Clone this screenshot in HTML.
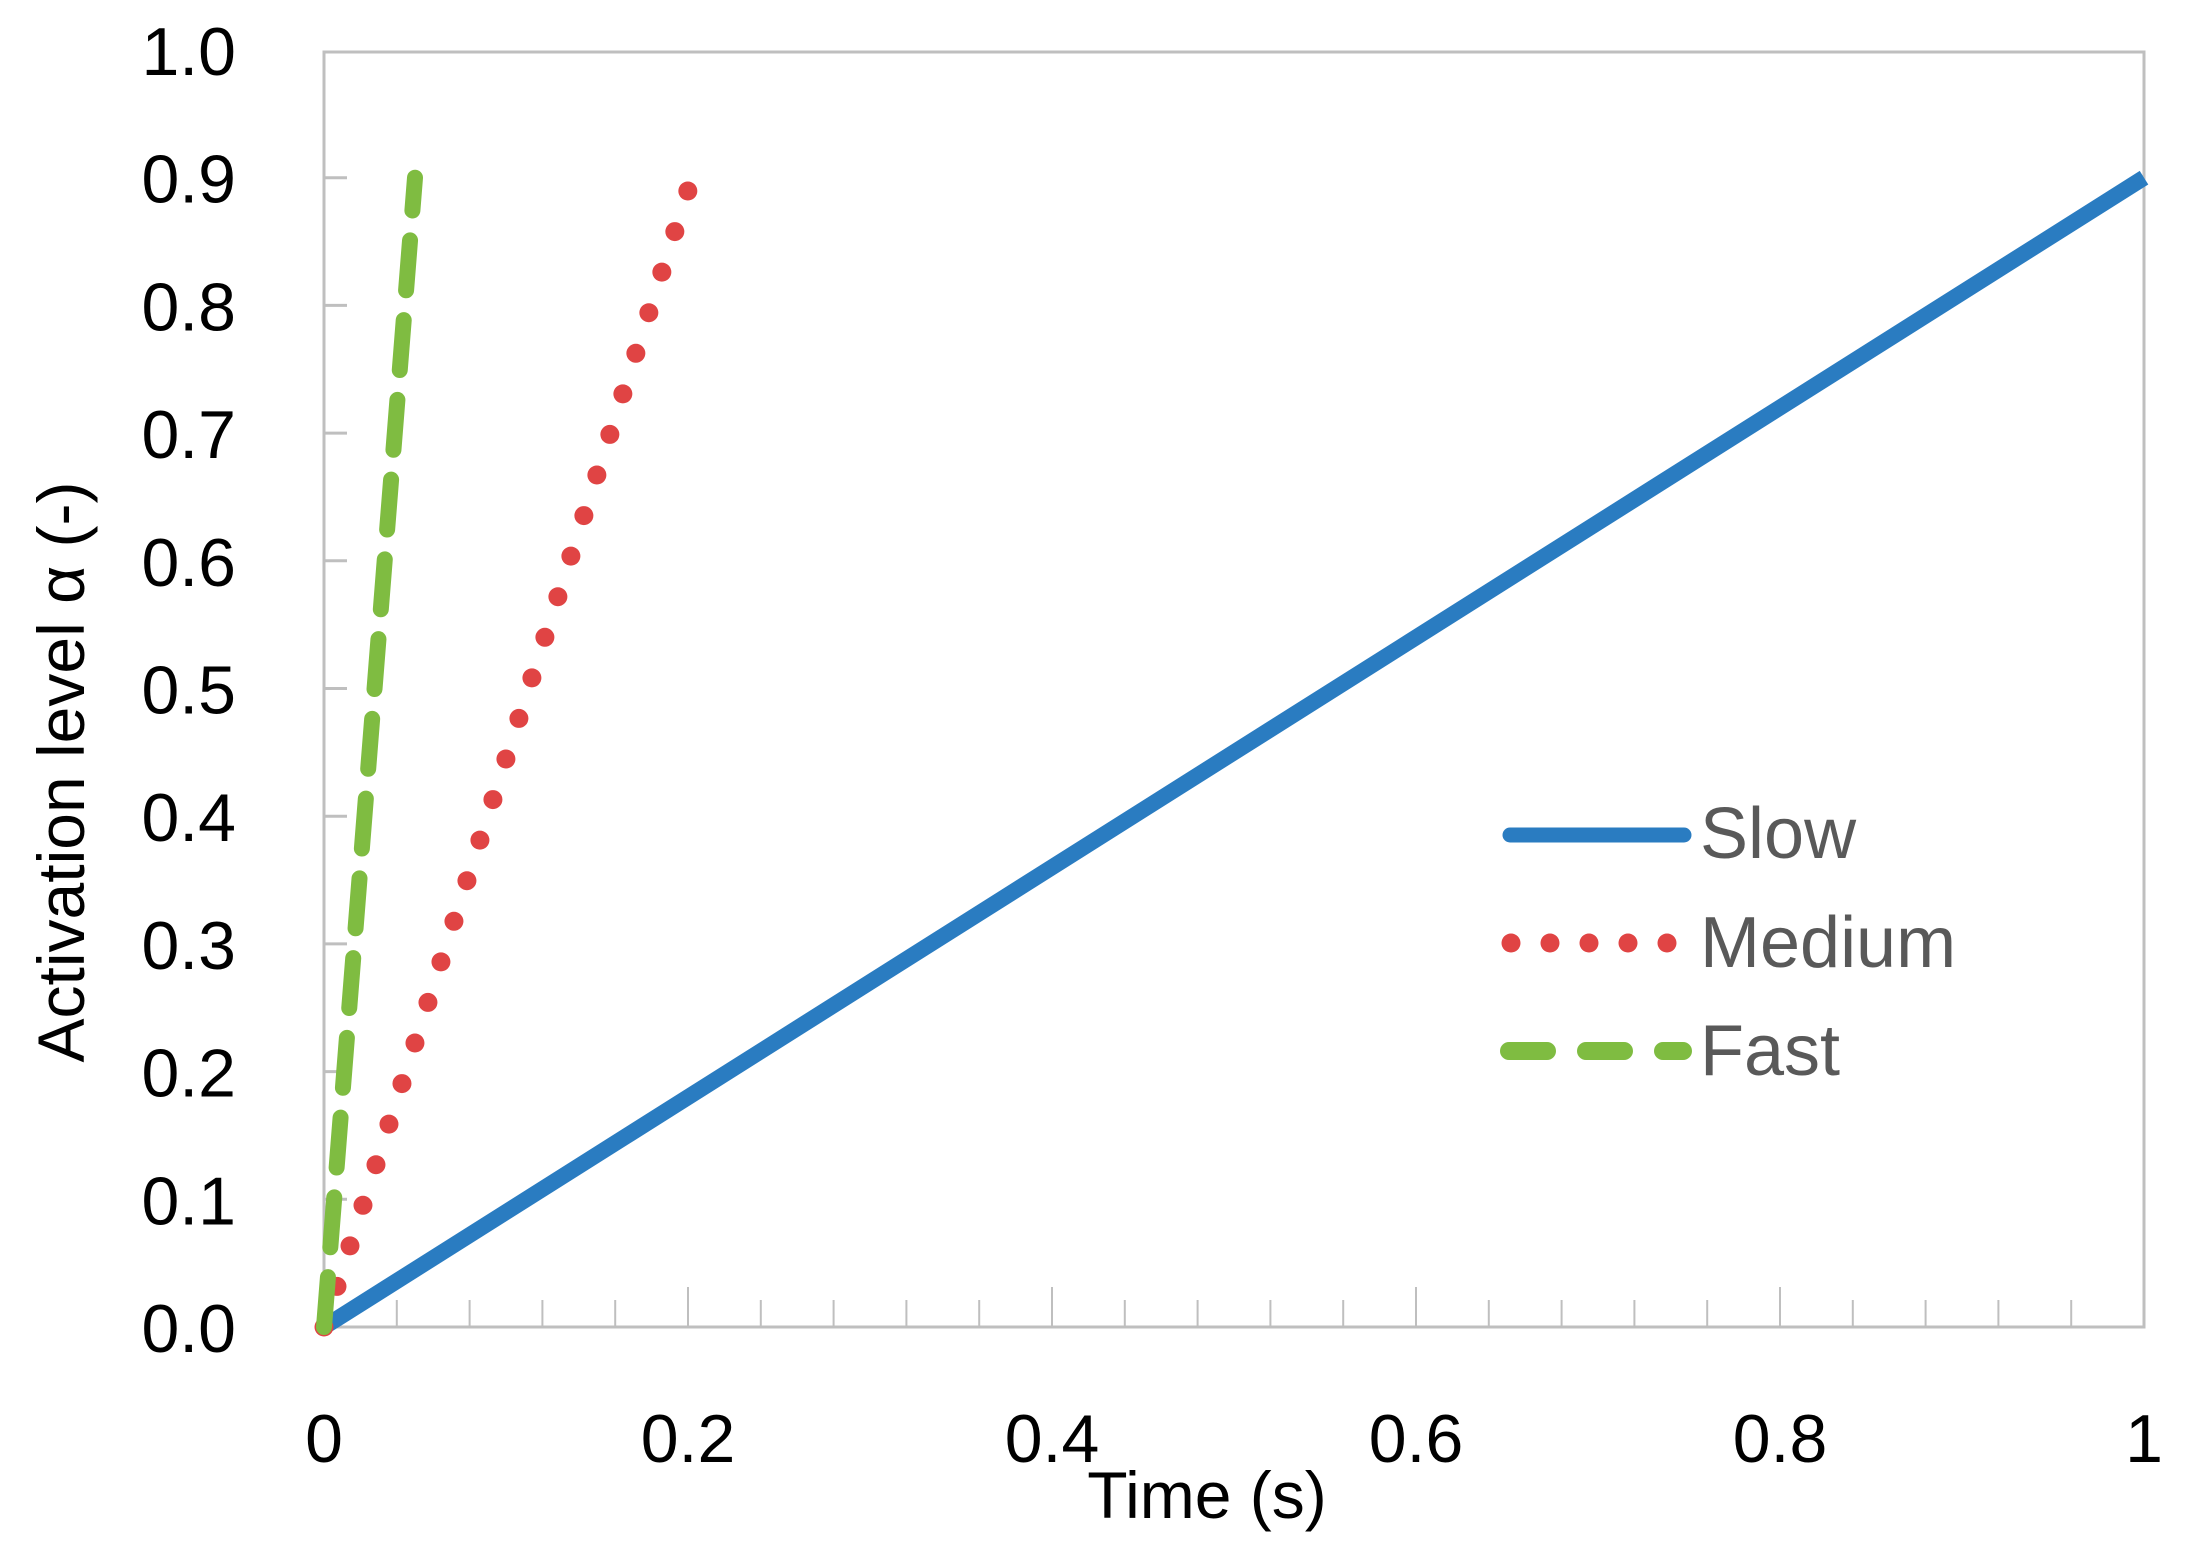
<!DOCTYPE html>
<html><head><meta charset="utf-8"><style>
html,body{margin:0;padding:0;background:#fff;}
svg{display:block;font-family:"Liberation Sans",sans-serif;}
</style></head><body>
<svg id="chart" width="2189" height="1553" viewBox="0 0 2189 1553" xmlns="http://www.w3.org/2000/svg">
<rect x="324" y="52" width="1820" height="1275" fill="#fff" stroke="#bfbfbf" stroke-width="3"/>
<g id="grid"></g>
<g id="series"></g>
<g id="labels"></g>
<text x="1207" y="1518" font-size="66" text-anchor="middle" fill="#000">Time (s)</text>
<text transform="translate(84,772) rotate(-90)" font-size="66" text-anchor="middle" fill="#000">Activation level α (-)</text>
<g>
<line x1="1510" y1="835" x2="1684" y2="835" stroke="#2a7cc1" stroke-width="15" stroke-linecap="round"/>
<text x="1700" y="858" font-size="72" fill="#595959">Slow</text>
<line x1="1511" y1="943" x2="1684" y2="943" stroke="#e04444" stroke-width="19" stroke-linecap="round" stroke-dasharray="0 39"/>
<text x="1700" y="967" font-size="72" fill="#595959">Medium</text>
<line x1="1509" y1="1051" x2="1683" y2="1051" stroke="#7fbc41" stroke-width="18" stroke-linecap="round" stroke-dasharray="38 39"/>
<text x="1700" y="1075" font-size="72" fill="#595959">Fast</text>
</g>
</svg>
<script>
const seriesNames = ["Slow", "Medium", "Fast"];
const slowT = [0, 1.0];
const slowA = [0, 0.9];
const mediumT = [0, 0.2];
const mediumA = [0, 0.89];
const fastT = [0, 0.05];
const fastA = [0, 0.9];
const xTickLabels = ["0", "0.2", "0.4", "0.6", "0.8", "1"];
const xTickValues = [0, 0.2, 0.4, 0.6, 0.8, 1];
const yTickLabels = ["0.0","0.1","0.2","0.3","0.4","0.5","0.6","0.7","0.8","0.9","1.0"];
const yTickValues = [0,0.1,0.2,0.3,0.4,0.5,0.6,0.7,0.8,0.9,1.0];

const NS = "http://www.w3.org/2000/svg";
const X0 = 324, X1 = 2144, Y0 = 1327, Y1 = 50;
function xs(v){ return X0 + v * (X1 - X0); }
function ys(v){ return Y0 - v * (Y0 - Y1); }
function mk(tag, attrs, parent){
  const e = document.createElementNS(NS, tag);
  for (const k in attrs) e.setAttribute(k, attrs[k]);
  parent.appendChild(e);
  return e;
}
const grid = document.getElementById('grid');
const labels = document.getElementById('labels');
const series = document.getElementById('series');

for (let i = 1; i <= 25; i++) {
  const v = i * 0.04;
  const major = (i % 5 === 0);
  const t = mk('line', {x1: xs(v), x2: xs(v), y1: Y0, y2: Y0 - (major ? 40 : 27), stroke: '#bfbfbf', 'stroke-width': 2}, grid);
  
  
}
xTickValues.forEach((v, i) => {
  const t = mk('text', {x: xs(v), y: 1462, 'font-size': 68, 'text-anchor': 'middle', fill: '#000'}, labels);
  t.textContent = xTickLabels[i];
  
  
});
yTickValues.forEach((v, i) => {
  if (v > 0 && v < 1) {
    const tk = mk('line', {x1: X0, x2: X0 + 23, y1: ys(v), y2: ys(v), stroke: '#bfbfbf', 'stroke-width': 3}, grid);
    
    
  }
  const t = mk('text', {x: 236, y: ys(v) + 25, 'font-size': 68, 'text-anchor': 'end', fill: '#000'}, labels);
  t.textContent = yTickLabels[i];
  
  
});

function path(T, A){ return T.map((t, i) => (i ? 'L' : 'M') + xs(t) + ' ' + ys(A[i])).join(' '); }
const pSlow = mk('path', {d: path(slowT, slowA), stroke: '#2a7cc1', 'stroke-width': 16, fill: 'none', 'stroke-linecap': 'butt'}, series);


const pMed = mk('path', {d: path(mediumT, mediumA), stroke: '#e04444', 'stroke-width': 19, fill: 'none', 'stroke-linecap': 'round'}, series);


const medLen = pMed.getTotalLength();
const medGap = medLen / Math.max(1, Math.round(medLen / 42)) - 0.02;
pMed.setAttribute('stroke-dasharray', '0 ' + medGap);
const pFast = mk('path', {d: path(fastT, fastA), stroke: '#7fbc41', 'stroke-width': 16, fill: 'none', 'stroke-linecap': 'round', 'stroke-dasharray': '50 30'}, series);


</script>
</body></html>
